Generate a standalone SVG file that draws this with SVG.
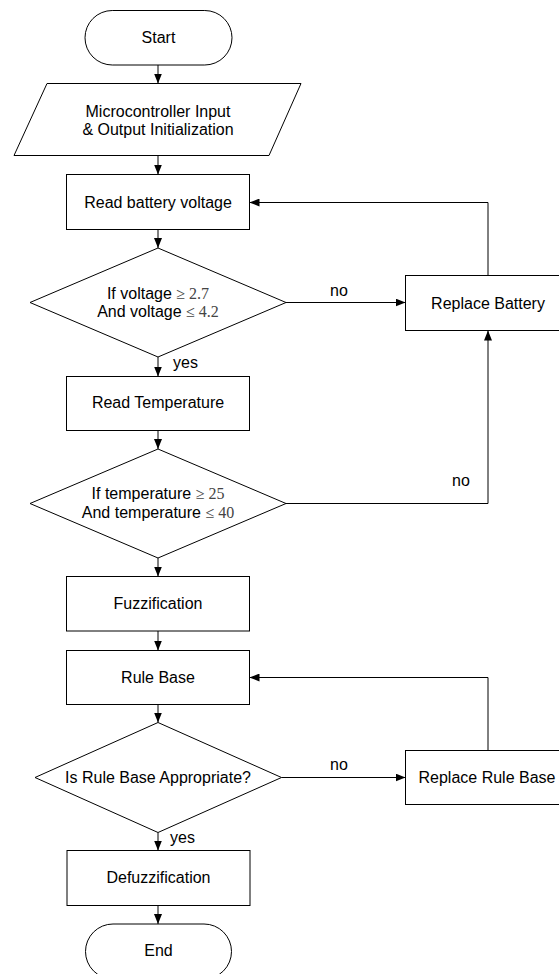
<svg xmlns="http://www.w3.org/2000/svg" width="559" height="974" viewBox="0 0 559 974">
<style>
.s{fill:#fff;stroke:#000;stroke-width:1}
.t{font-family:"Liberation Sans",Arial,sans-serif;font-size:16px;fill:#000;text-anchor:middle}
.l{font-family:"Liberation Sans",Arial,sans-serif;font-size:16px;fill:#000}
.m{font-family:"Liberation Serif","Times New Roman",serif;fill:#444}
.c{fill:none;stroke:#000;stroke-width:1}
</style>
<defs>
<marker id="ah" markerUnits="userSpaceOnUse" markerWidth="10" markerHeight="8" refX="10" refY="4" orient="auto">
<path d="M0,0 L10,4 L0,8 z" fill="#000"/>
</marker>
</defs>
<rect width="559" height="974" fill="#fff"/>
<g id="connectors">
<path class="c" d="M158,65 V83.5" marker-end="url(#ah)"/>
<path class="c" d="M158,155.5 V174.5" marker-end="url(#ah)"/>
<path class="c" d="M158,229.5 V248" marker-end="url(#ah)"/>
<path class="c" d="M286,302.5 H405.5" marker-end="url(#ah)"/>
<path class="c" d="M488,275.5 V202.5 H249.5" marker-end="url(#ah)"/>
<path class="c" d="M158,357 V376.5" marker-end="url(#ah)"/>
<path class="c" d="M158,430.5 V449" marker-end="url(#ah)"/>
<path class="c" d="M286,503.5 H488 V330.5" marker-end="url(#ah)"/>
<path class="c" d="M158,558 V576.5" marker-end="url(#ah)"/>
<path class="c" d="M158,631 V650.5" marker-end="url(#ah)"/>
<path class="c" d="M158,704.5 V722.5" marker-end="url(#ah)"/>
<path class="c" d="M281.5,777.5 H405.5" marker-end="url(#ah)"/>
<path class="c" d="M488,750.5 V677.5 H249.5" marker-end="url(#ah)"/>
<path class="c" d="M158,832.5 V850.5" marker-end="url(#ah)"/>
<path class="c" d="M158,905.5 V924" marker-end="url(#ah)"/>
<text class="l" x="330" y="296">no</text>
<text class="l" x="452" y="486">no</text>
<text class="l" x="330" y="770">no</text>
<text class="l" x="173" y="368">yes</text>
<text class="l" x="170" y="843">yes</text>
</g>
<g id="start">
<rect class="s" x="85" y="10.5" width="147" height="54.5" rx="27.25"/>
<text class="t" x="158.5" y="43">Start</text>
</g>
<g id="init">
<polygon class="s" points="47,83.5 301,83.5 269,155.5 14,155.5"/>
<text class="t" x="158" y="117">Microcontroller Input</text>
<text class="t" x="158" y="135">&amp; Output Initialization</text>
</g>
<g id="readVoltage">
<rect class="s" x="66.5" y="174.5" width="183" height="55"/>
<text class="t" x="158" y="208">Read battery voltage</text>
</g>
<g id="checkVoltage">
<polygon class="s" points="158,248 286,302.5 158,357 30,302.5"/>
<text class="t" x="158" y="298.5">If voltage <tspan class="m">≥ 2.7</tspan></text>
<text class="t" x="158" y="317">And voltage <tspan class="m">≤ 4.2</tspan></text>
</g>
<g id="replaceBattery">
<rect class="s" x="405.5" y="275.5" width="165" height="55"/>
<text class="t" x="488" y="308.5">Replace Battery</text>
</g>
<g id="readTemp">
<rect class="s" x="66.5" y="376.5" width="183" height="54"/>
<text class="t" x="158" y="408">Read Temperature</text>
</g>
<g id="checkTemp">
<polygon class="s" points="158,449 286,503.5 158,558 30,503.5"/>
<text class="t" x="158" y="499">If temperature <tspan class="m">≥ 25</tspan></text>
<text class="t" x="158" y="518">And temperature <tspan class="m">≤ 40</tspan></text>
</g>
<g id="fuzzification">
<rect class="s" x="66.5" y="576.5" width="183" height="54.5"/>
<text class="t" x="158" y="609">Fuzzification</text>
</g>
<g id="ruleBase">
<rect class="s" x="66.5" y="650.5" width="183" height="54"/>
<text class="t" x="158" y="682.5">Rule Base</text>
</g>
<g id="checkRules">
<polygon class="s" points="158,722.5 281.5,777.5 158,832.5 35,777.5"/>
<text class="t" x="158" y="783">Is Rule Base Appropriate?</text>
</g>
<g id="replaceRuleBase">
<rect class="s" x="405.5" y="750.5" width="165" height="54"/>
<text class="t" x="487" y="783">Replace Rule Base</text>
</g>
<g id="defuzzification">
<rect class="s" x="67" y="850.5" width="183" height="55"/>
<text class="t" x="158.5" y="883">Defuzzification</text>
</g>
<g id="end">
<rect class="s" x="85.5" y="924" width="146" height="55" rx="27.5"/>
<text class="t" x="158.5" y="956">End</text>
</g>
</svg>
